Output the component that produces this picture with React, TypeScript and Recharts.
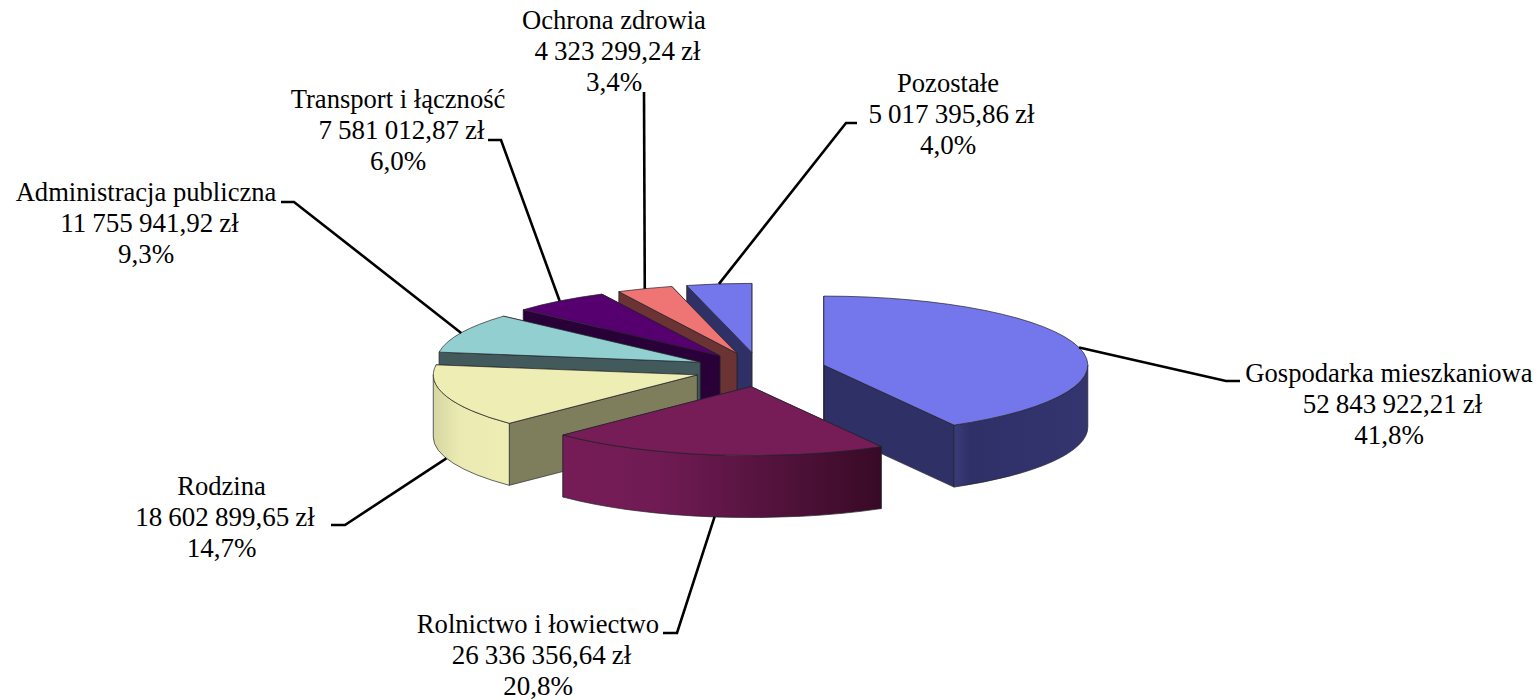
import React from "react";
import { PieChart, Pie } from "recharts";

const CATEGORIES = ["Gospodarka mieszkaniowa", "Pozostałe", "Ochrona zdrowia", "Transport i łączność", "Administracja publiczna", "Rodzina", "Rolnictwo i łowiectwo"];
const AMOUNTS = [52843922.21, 5017395.86, 4323299.24, 7581012.87, 11755941.92, 18602899.65, 26336356.64];
const AMOUNT_LABELS = ["52 843 922,21 zł", "5 017 395,86 zł", "4 323 299,24 zł", "7 581 012,87 zł", "11 755 941,92 zł", "18 602 899,65 zł", "26 336 356,64 zł"];

const TOP_COLORS = ["#7476ec", "#7476ec", "#ef7575", "#56006f", "#91cfd0", "#eeedb4", "#761c57"];
const FACE_COLORS = ["#2f3066", "#2f3066", "#6b3333", "#2a0038", "#425a5c", "#7e7e5c", "#5a1542"];
const WALL_STOPS = [
  ["#3a3b7a", "#2f3068", "#34356f"],
  ["#2f3066", "#2f3066", "#2f3066"],
  ["#6b3333", "#6b3333", "#6b3333"],
  ["#2a0038", "#2a0038", "#2a0038"],
  ["#425a5c", "#425a5c", "#425a5c"],
  ["#d6d6a2", "#ebeab2", "#eeedb4"],
  ["#761c57", "#701b54", "#380a26"],
];
const WALL_MID = [0.12, 0.5, 0.5, 0.5, 0.5, 0.35, 0.3];
// label layout: text centre x, first baseline y, leader elbow x/y, leader end x
const LABEL_X = [1389, 948, 614, 398, 146, 221.5, 538];
const LABEL_Y = [382, 92, 29, 108, 201, 495, 633];
const ELBOW_X = [1226, 846, 644, 501, 294, 345, 677];
const ELBOW_Y = [381, 123, 92, 140, 202, 525, 633];
const END_X = [1240, 857, 644, 488, 281, 331, 663];

const WIDTH = 1538;
const HEIGHT = 700;
const CX = 760;
const CY = 369.5;
const RX = 264;
const SQUASH = 0.2614;
const DEPTH = 62;
const EXPLODE = 66;
const LINE_H = 31;
const AMOUNT_SHIFT = 3.5;
const total = AMOUNTS.reduce((a, b) => a + b, 0);
const START = 90 - (360 * AMOUNTS[0]) / total;
const RAD = Math.PI / 180;

const rows = CATEGORIES.map((name, i) => ({ name, value: AMOUNTS[i] }));

function frame(cx: number, cy: number, r: number, mid: number) {
  const ox = cx + EXPLODE * Math.cos(mid * RAD);
  const oy = cy - EXPLODE * SQUASH * Math.sin(mid * RAD);
  const ry = r * SQUASH;
  const at = (a: number) => [ox + r * Math.cos(a * RAD), oy - ry * Math.sin(a * RAD)];
  return { ox, oy, ry, at };
}

function Slice3D(props: any) {
  const { cx, cy, outerRadius: r, startAngle: s, endAngle: e, midAngle: m } = props;
  const name = props.name ?? props.payload?.name;
  const i = CATEGORIES.indexOf(name);
  const { ox, oy, ry, at } = frame(cx, cy, r, m);
  const stroke = "#22222a";
  const sw = 0.7;
  const face = (a: number) => {
    const [x, y] = at(a);
    return `M${ox},${oy} L${x},${y} L${x},${y + DEPTH} L${ox},${oy + DEPTH} Z`;
  };
  const walls: string[] = [];
  for (const [lo, hi] of [[-180, 0], [180, 360]]) {
    const a0 = Math.max(s, lo);
    const a1 = Math.min(e, hi);
    if (a1 > a0) {
      const [x0, y0] = at(a0);
      const [x1, y1] = at(a1);
      walls.push(`M${x0},${y0} A${r},${ry} 0 0 0 ${x1},${y1} L${x1},${y1 + DEPTH} A${r},${ry} 0 0 1 ${x0},${y0 + DEPTH} Z`);
    }
  }
  const [sx, sy] = at(s);
  const [ex, ey] = at(e);
  const gid = `wall-${i}`;
  const stops = WALL_STOPS[i];
  return (
    <g>
      <defs>
        <linearGradient id={gid} x1="0" y1="0" x2="1" y2="0">
          <stop offset="0" stopColor={stops[0]} />
          <stop offset={WALL_MID[i]} stopColor={stops[1]} />
          <stop offset="1" stopColor={stops[2]} />
        </linearGradient>
      </defs>
      <path d={face(s)} fill={FACE_COLORS[i]} stroke={stroke} strokeWidth={sw} />
      <path d={face(e)} fill={FACE_COLORS[i]} stroke={stroke} strokeWidth={sw} />
      {walls.map((d, k) => (
        <path key={k} d={d} fill={`url(#${gid})`} stroke={stroke} strokeWidth={sw} />
      ))}
      <path d={`M${ox},${oy} L${sx},${sy} A${r},${ry} 0 0 0 ${ex},${ey} Z`} fill={TOP_COLORS[i]} stroke={stroke} strokeWidth={sw} />
    </g>
  );
}

function SliceLabel(props: any) {
  const { cx, cy, outerRadius: r, midAngle: m, percent, name } = props;
  const i = CATEGORIES.indexOf(name ?? props.payload?.name);
  const { at } = frame(cx, cy, r, m);
  const [px, py0] = at(m);
  const py = py0 + (Math.sin(m * RAD) < 0 ? DEPTH : 0);
  const pct = `${(percent * 100).toFixed(1).replace(".", ",")}%`;
  const lines = [CATEGORIES[i], AMOUNT_LABELS[i], pct];
  return (
    <g>
      <polyline
        points={`${px},${py} ${ELBOW_X[i]},${ELBOW_Y[i]} ${END_X[i]},${ELBOW_Y[i]}`}
        fill="none"
        stroke="#000"
        strokeWidth={2.6}
      />
      {lines.map((t, k) => (
        <text
          key={k}
          x={LABEL_X[i] + (k === 1 ? AMOUNT_SHIFT : 0)}
          y={LABEL_Y[i] + k * LINE_H}
          textAnchor="middle"
          fontFamily="'Liberation Serif', serif"
          fontSize={k === 0 ? 26.6 : 27}
          wordSpacing={k === 1 ? -0.6 : 0}
          fill="#000"
        >
          {t}
        </text>
      ))}
    </g>
  );
}

export default function App() {
  return (
    <div style={{ position: "absolute", left: 0, top: 0, width: WIDTH, height: HEIGHT, background: "#fff" }}>
      <PieChart width={WIDTH} height={HEIGHT} margin={{ top: 0, right: 0, bottom: 0, left: 0 }}>
        <Pie
          data={rows}
          dataKey="value"
          nameKey="name"
          cx={CX}
          cy={CY}
          innerRadius={0}
          outerRadius={RX}
          startAngle={START}
          endAngle={START + 360}
          paddingAngle={0}
          stroke="none"
          isAnimationActive={false}
          shape={Slice3D}
          label={SliceLabel}
          labelLine={false}
        />
      </PieChart>
    </div>
  );
}
